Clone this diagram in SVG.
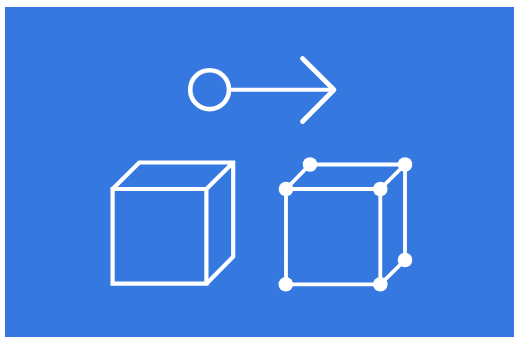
<svg xmlns="http://www.w3.org/2000/svg" width="514" height="337" viewBox="0 0 514 337">
<style>
.l{fill:none;stroke:#fff;stroke-width:3.8}
.t{stroke-width:4.2;stroke-linejoin:miter}
.d{fill:#fff}
</style>
<rect x="0" y="0" width="514" height="337" fill="#fff"/>
<rect x="5" y="7" width="509" height="330" fill="#3579e0"/>
<g id="arrow">
<circle class="l" cx="209.6" cy="89.7" r="19.4" style="stroke-width:4.6"/>
<path class="l" d="M231 89.7H334" style="stroke-width:3.9"/>
<path class="l" d="M302.5 58.5L334 89.7L302.5 121.5" style="stroke-width:4.8;stroke-linecap:round;stroke-linejoin:round"/>
</g>
<g id="solid-cube">
<path class="l t" d="M112.6 189H206.4V283.7H112.6Z"/>
<path class="l t" d="M112.6 189L139.3 162.5H233.2V256.7L206.4 283.7M206.4 189L233.2 162.5"/>
</g>
<g id="node-cube">
<path class="l" d="M286 189H380.3V284.3H286ZM286 189L310 164.5H405V260L380.3 284.3M380.3 189L405 164.5"/>
<g class="d">
<circle cx="286" cy="189" r="7.3"/>
<circle cx="310" cy="164.5" r="7.3"/>
<circle cx="405" cy="164.5" r="7.3"/>
<circle cx="380.3" cy="189" r="7.3"/>
<circle cx="380.3" cy="284.3" r="7.3"/>
<circle cx="285.8" cy="284.3" r="7.3"/>
<circle cx="405" cy="260" r="7.3"/>
</g>
</g>
</svg>
